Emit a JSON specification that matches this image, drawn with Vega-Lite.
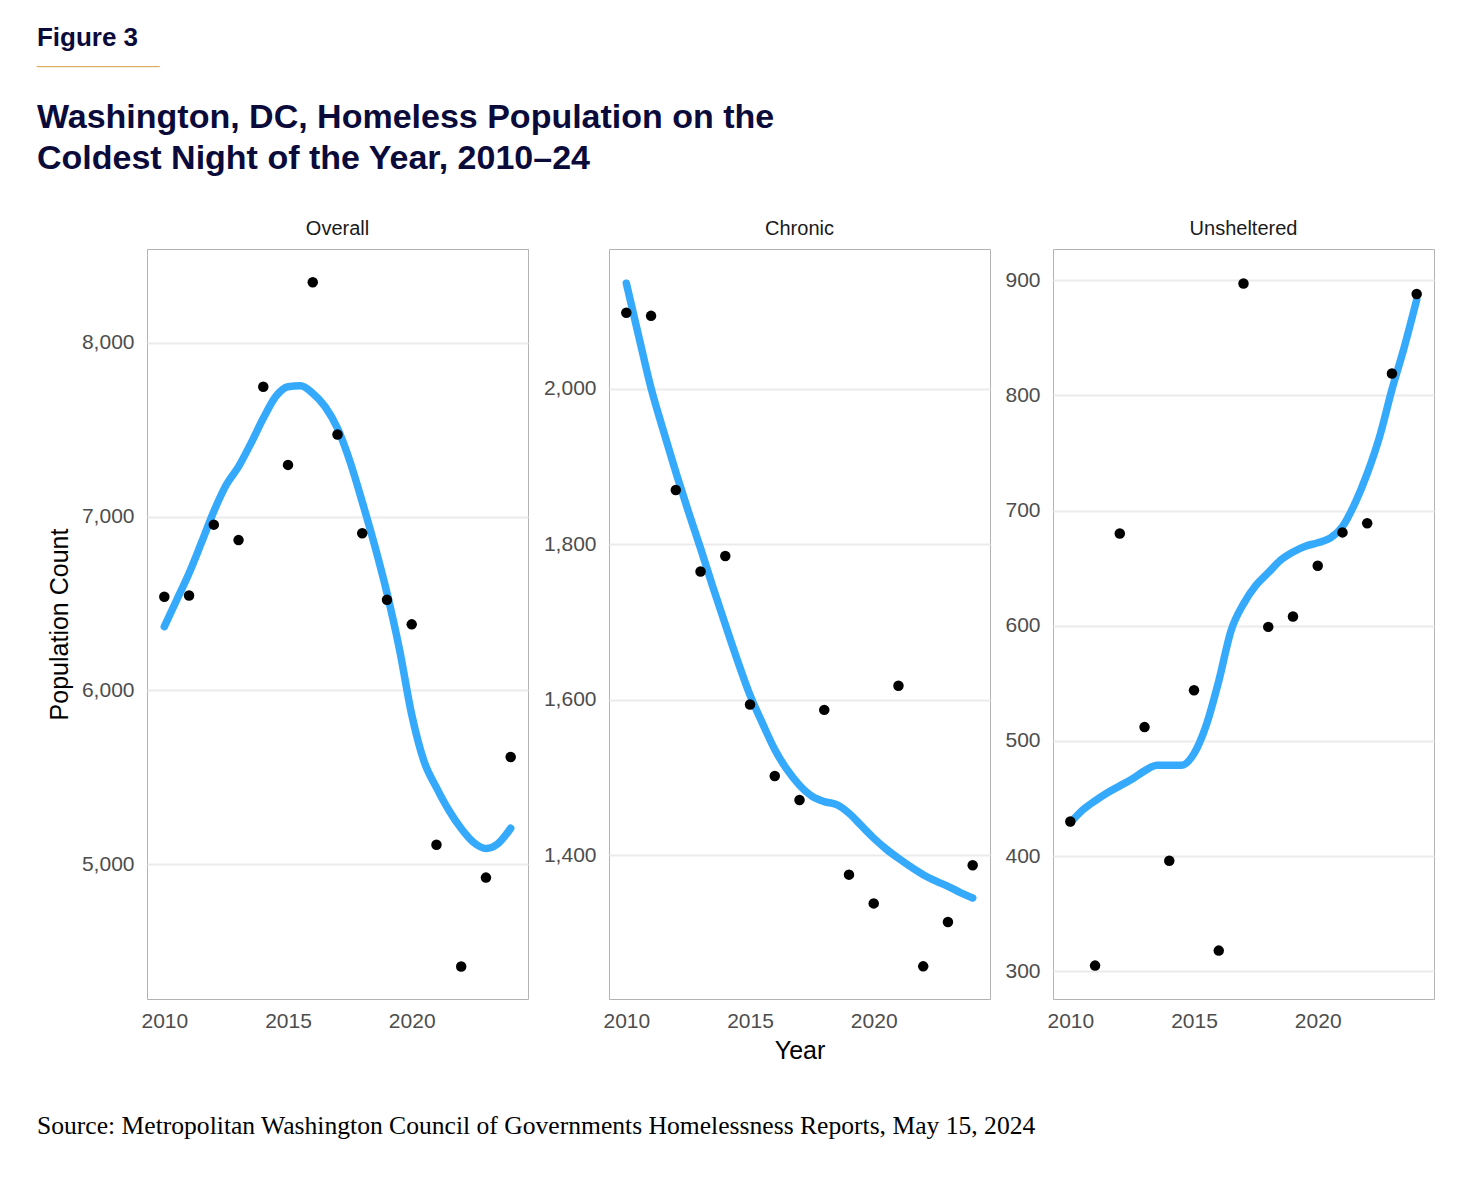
{
  "$schema": "https://vega.github.io/schema/vega-lite/v6.json",
  "padding": {"left": 36, "top": 24, "right": 20, "bottom": 20},
  "background": "white",
  "config": {
    "font": "Liberation Sans",
    "view": {"stroke": "#b3b3b3", "strokeWidth": 1},
    "axis": {
      "labelFont": "Liberation Sans", "labelFontSize": 21, "labelColor": "#4d4d4d",
      "ticks": false, "domain": false, "gridColor": "#ebebeb", "gridWidth": 2,
      "titleFont": "Liberation Sans", "titleFontSize": 25, "titleFontWeight": "normal", "titleColor": "#000000"
    }
  },
  "datasets": {
    "points": [
      {"series": "Overall", "year": 2010, "count": 6539}, {"series": "Overall", "year": 2011, "count": 6546},
      {"series": "Overall", "year": 2012, "count": 6954}, {"series": "Overall", "year": 2013, "count": 6865},
      {"series": "Overall", "year": 2014, "count": 7748}, {"series": "Overall", "year": 2015, "count": 7298},
      {"series": "Overall", "year": 2016, "count": 8350}, {"series": "Overall", "year": 2017, "count": 7473},
      {"series": "Overall", "year": 2018, "count": 6904}, {"series": "Overall", "year": 2019, "count": 6521},
      {"series": "Overall", "year": 2020, "count": 6380}, {"series": "Overall", "year": 2021, "count": 5111},
      {"series": "Overall", "year": 2022, "count": 4410}, {"series": "Overall", "year": 2023, "count": 4922},
      {"series": "Overall", "year": 2024, "count": 5616},
      {"series": "Chronic", "year": 2010, "count": 2098}, {"series": "Chronic", "year": 2011, "count": 2094},
      {"series": "Chronic", "year": 2012, "count": 1870}, {"series": "Chronic", "year": 2013, "count": 1765},
      {"series": "Chronic", "year": 2014, "count": 1785}, {"series": "Chronic", "year": 2015, "count": 1594},
      {"series": "Chronic", "year": 2016, "count": 1502}, {"series": "Chronic", "year": 2017, "count": 1471},
      {"series": "Chronic", "year": 2018, "count": 1587}, {"series": "Chronic", "year": 2019, "count": 1375},
      {"series": "Chronic", "year": 2020, "count": 1338}, {"series": "Chronic", "year": 2021, "count": 1618},
      {"series": "Chronic", "year": 2022, "count": 1257}, {"series": "Chronic", "year": 2023, "count": 1314},
      {"series": "Chronic", "year": 2024, "count": 1387},
      {"series": "Unsheltered", "year": 2010, "count": 430}, {"series": "Unsheltered", "year": 2011, "count": 305},
      {"series": "Unsheltered", "year": 2012, "count": 680}, {"series": "Unsheltered", "year": 2013, "count": 512},
      {"series": "Unsheltered", "year": 2014, "count": 396}, {"series": "Unsheltered", "year": 2015, "count": 544},
      {"series": "Unsheltered", "year": 2016, "count": 318}, {"series": "Unsheltered", "year": 2017, "count": 897},
      {"series": "Unsheltered", "year": 2018, "count": 599}, {"series": "Unsheltered", "year": 2019, "count": 608},
      {"series": "Unsheltered", "year": 2020, "count": 652}, {"series": "Unsheltered", "year": 2021, "count": 681},
      {"series": "Unsheltered", "year": 2022, "count": 689}, {"series": "Unsheltered", "year": 2023, "count": 819},
      {"series": "Unsheltered", "year": 2024, "count": 888}
    ],
    "smooth": [
      {"series": "Overall", "year": 2010, "count": 6367}, {"series": "Overall", "year": 2010.5, "count": 6520},
      {"series": "Overall", "year": 2011, "count": 6674}, {"series": "Overall", "year": 2011.5, "count": 6850},
      {"series": "Overall", "year": 2012, "count": 7030}, {"series": "Overall", "year": 2012.5, "count": 7182},
      {"series": "Overall", "year": 2013, "count": 7288}, {"series": "Overall", "year": 2013.5, "count": 7422},
      {"series": "Overall", "year": 2014, "count": 7566}, {"series": "Overall", "year": 2014.5, "count": 7691},
      {"series": "Overall", "year": 2015, "count": 7748}, {"series": "Overall", "year": 2015.5, "count": 7753},
      {"series": "Overall", "year": 2016, "count": 7710}, {"series": "Overall", "year": 2016.5, "count": 7633},
      {"series": "Overall", "year": 2017, "count": 7509}, {"series": "Overall", "year": 2017.5, "count": 7320},
      {"series": "Overall", "year": 2018, "count": 7085}, {"series": "Overall", "year": 2018.5, "count": 6835},
      {"series": "Overall", "year": 2019, "count": 6560}, {"series": "Overall", "year": 2019.5, "count": 6240},
      {"series": "Overall", "year": 2020, "count": 5860}, {"series": "Overall", "year": 2020.5, "count": 5590},
      {"series": "Overall", "year": 2021, "count": 5440}, {"series": "Overall", "year": 2021.5, "count": 5310},
      {"series": "Overall", "year": 2022, "count": 5205}, {"series": "Overall", "year": 2022.5, "count": 5125},
      {"series": "Overall", "year": 2023, "count": 5090}, {"series": "Overall", "year": 2023.5, "count": 5119},
      {"series": "Overall", "year": 2024, "count": 5206},
      {"series": "Chronic", "year": 2010, "count": 2136}, {"series": "Chronic", "year": 2010.5, "count": 2068},
      {"series": "Chronic", "year": 2011, "count": 2001}, {"series": "Chronic", "year": 2011.5, "count": 1946},
      {"series": "Chronic", "year": 2012, "count": 1893}, {"series": "Chronic", "year": 2012.5, "count": 1843},
      {"series": "Chronic", "year": 2013, "count": 1795}, {"series": "Chronic", "year": 2013.5, "count": 1745},
      {"series": "Chronic", "year": 2014, "count": 1697}, {"series": "Chronic", "year": 2014.5, "count": 1650},
      {"series": "Chronic", "year": 2015, "count": 1606}, {"series": "Chronic", "year": 2015.5, "count": 1570},
      {"series": "Chronic", "year": 2016, "count": 1536}, {"series": "Chronic", "year": 2016.5, "count": 1510},
      {"series": "Chronic", "year": 2017, "count": 1490}, {"series": "Chronic", "year": 2017.5, "count": 1476},
      {"series": "Chronic", "year": 2018, "count": 1469}, {"series": "Chronic", "year": 2018.5, "count": 1465},
      {"series": "Chronic", "year": 2019, "count": 1454}, {"series": "Chronic", "year": 2019.5, "count": 1438},
      {"series": "Chronic", "year": 2020, "count": 1422}, {"series": "Chronic", "year": 2020.5, "count": 1408},
      {"series": "Chronic", "year": 2021, "count": 1396}, {"series": "Chronic", "year": 2021.5, "count": 1385},
      {"series": "Chronic", "year": 2022, "count": 1375}, {"series": "Chronic", "year": 2022.5, "count": 1367},
      {"series": "Chronic", "year": 2023, "count": 1360}, {"series": "Chronic", "year": 2023.5, "count": 1352},
      {"series": "Chronic", "year": 2024, "count": 1345},
      {"series": "Unsheltered", "year": 2010, "count": 429}, {"series": "Unsheltered", "year": 2010.5, "count": 440},
      {"series": "Unsheltered", "year": 2011, "count": 448}, {"series": "Unsheltered", "year": 2011.5, "count": 455},
      {"series": "Unsheltered", "year": 2012, "count": 461}, {"series": "Unsheltered", "year": 2012.5, "count": 467},
      {"series": "Unsheltered", "year": 2013, "count": 474}, {"series": "Unsheltered", "year": 2013.5, "count": 479},
      {"series": "Unsheltered", "year": 2014, "count": 479}, {"series": "Unsheltered", "year": 2014.5, "count": 479},
      {"series": "Unsheltered", "year": 2015, "count": 489}, {"series": "Unsheltered", "year": 2015.5, "count": 514},
      {"series": "Unsheltered", "year": 2016, "count": 552}, {"series": "Unsheltered", "year": 2016.5, "count": 596},
      {"series": "Unsheltered", "year": 2017, "count": 619}, {"series": "Unsheltered", "year": 2017.5, "count": 635},
      {"series": "Unsheltered", "year": 2018, "count": 646}, {"series": "Unsheltered", "year": 2018.5, "count": 657},
      {"series": "Unsheltered", "year": 2019, "count": 664}, {"series": "Unsheltered", "year": 2019.5, "count": 669},
      {"series": "Unsheltered", "year": 2020, "count": 672}, {"series": "Unsheltered", "year": 2020.5, "count": 676},
      {"series": "Unsheltered", "year": 2021, "count": 686}, {"series": "Unsheltered", "year": 2021.5, "count": 706},
      {"series": "Unsheltered", "year": 2022, "count": 732}, {"series": "Unsheltered", "year": 2022.5, "count": 764},
      {"series": "Unsheltered", "year": 2023, "count": 805}, {"series": "Unsheltered", "year": 2023.5, "count": 842},
      {"series": "Unsheltered", "year": 2024, "count": 883}
    ]
  },
  "title": {
    "text": "Figure 3",
    "subtitle": "─────────────────",
    "anchor": "start", "font": "Liberation Sans", "fontSize": 26, "fontWeight": "bold", "color": "#0b0b3b",
    "subtitleFont": "DejaVu Sans", "subtitleFontSize": 12, "subtitleColor": "#d8a448", "subtitlePadding": 11,
    "offset": 28, "baseline": "top"
  },
  "vconcat": [
    {
      "title": {
        "text": "Source: Metropolitan Washington Council of Governments Homelessness Reports, May 15, 2024",
        "orient": "bottom", "anchor": "start", "font": "Liberation Serif", "fontSize": 25.6,
        "fontWeight": "normal", "color": "#000000", "offset": 50, "baseline": "top"
      },
      "vconcat": [
        {
          "title": {
            "text": ["Washington, DC, Homeless Population on the", "Coldest Night of the Year, 2010–24"],
            "anchor": "start", "dx": -10, "font": "Liberation Sans", "fontSize": 34, "fontWeight": "bold",
            "color": "#0b0b3b", "lineHeight": 41, "offset": 43, "baseline": "top"
          },
          "spacing": 13,
          "hconcat": [
            {
              "width": 381, "height": 750,
              "title": {"text": "Overall", "fontSize": 20, "fontWeight": "normal", "color": "#1a1a1a", "offset": 10, "anchor": "middle", "font": "Liberation Sans"},
              "layer": [
                {
                  "data": {"name": "smooth"},
                  "transform": [{"filter": "datum.series === 'Overall'"}],
                  "mark": {"type": "line", "color": "#35a9fb", "strokeWidth": 7.5, "interpolate": "monotone", "strokeCap": "round"},
                  "encoding": {
                    "x": {"field": "year", "type": "quantitative", "scale": {"domain": [2009.3, 2024.7], "nice": false, "zero": false}, "axis": {"values": [2010, 2015, 2020], "format": "d", "title": null, "grid": false, "labelPadding": 11}},
                    "y": {"field": "count", "type": "quantitative", "scale": {"domain": [4223, 8541], "nice": false, "zero": false}, "axis": {"values": [5000, 6000, 7000, 8000], "format": ",d", "title": "Population Count", "labelPadding": 13, "titlePadding": 9}}
                  }
                },
                {
                  "data": {"name": "points"},
                  "transform": [{"filter": "datum.series === 'Overall'"}],
                  "mark": {"type": "point", "filled": true, "color": "#000000", "size": 110, "opacity": 1},
                  "encoding": {
                    "x": {"field": "year", "type": "quantitative"},
                    "y": {"field": "count", "type": "quantitative"}
                  }
                }
              ]
            },
            {
              "width": 381, "height": 750,
              "title": {"text": "Chronic", "fontSize": 20, "fontWeight": "normal", "color": "#1a1a1a", "offset": 10, "anchor": "middle", "font": "Liberation Sans"},
              "layer": [
                {
                  "data": {"name": "smooth"},
                  "transform": [{"filter": "datum.series === 'Chronic'"}],
                  "mark": {"type": "line", "color": "#35a9fb", "strokeWidth": 7.5, "interpolate": "monotone", "strokeCap": "round"},
                  "encoding": {
                    "x": {"field": "year", "type": "quantitative", "scale": {"domain": [2009.3, 2024.7], "nice": false, "zero": false}, "axis": {"values": [2010, 2015, 2020], "format": "d", "title": "Year", "grid": false, "labelPadding": 11, "titlePadding": 7}},
                    "y": {"field": "count", "type": "quantitative", "scale": {"domain": [1215, 2180], "nice": false, "zero": false}, "axis": {"values": [1400, 1600, 1800, 2000], "format": ",d", "title": null, "labelPadding": 13}}
                  }
                },
                {
                  "data": {"name": "points"},
                  "transform": [{"filter": "datum.series === 'Chronic'"}],
                  "mark": {"type": "point", "filled": true, "color": "#000000", "size": 110, "opacity": 1},
                  "encoding": {
                    "x": {"field": "year", "type": "quantitative"},
                    "y": {"field": "count", "type": "quantitative"}
                  }
                }
              ]
            },
            {
              "width": 381, "height": 750,
              "title": {"text": "Unsheltered", "fontSize": 20, "fontWeight": "normal", "color": "#1a1a1a", "offset": 10, "anchor": "middle", "font": "Liberation Sans"},
              "layer": [
                {
                  "data": {"name": "smooth"},
                  "transform": [{"filter": "datum.series === 'Unsheltered'"}],
                  "mark": {"type": "line", "color": "#35a9fb", "strokeWidth": 7.5, "interpolate": "monotone", "strokeCap": "round"},
                  "encoding": {
                    "x": {"field": "year", "type": "quantitative", "scale": {"domain": [2009.3, 2024.7], "nice": false, "zero": false}, "axis": {"values": [2010, 2015, 2020], "format": "d", "title": null, "grid": false, "labelPadding": 11}},
                    "y": {"field": "count", "type": "quantitative", "scale": {"domain": [276, 927], "nice": false, "zero": false}, "axis": {"values": [300, 400, 500, 600, 700, 800, 900], "format": ",d", "title": null, "labelPadding": 13}}
                  }
                },
                {
                  "data": {"name": "points"},
                  "transform": [{"filter": "datum.series === 'Unsheltered'"}],
                  "mark": {"type": "point", "filled": true, "color": "#000000", "size": 110, "opacity": 1},
                  "encoding": {
                    "x": {"field": "year", "type": "quantitative"},
                    "y": {"field": "count", "type": "quantitative"}
                  }
                }
              ]
            }
          ]
        }
      ]
    }
  ]
}
